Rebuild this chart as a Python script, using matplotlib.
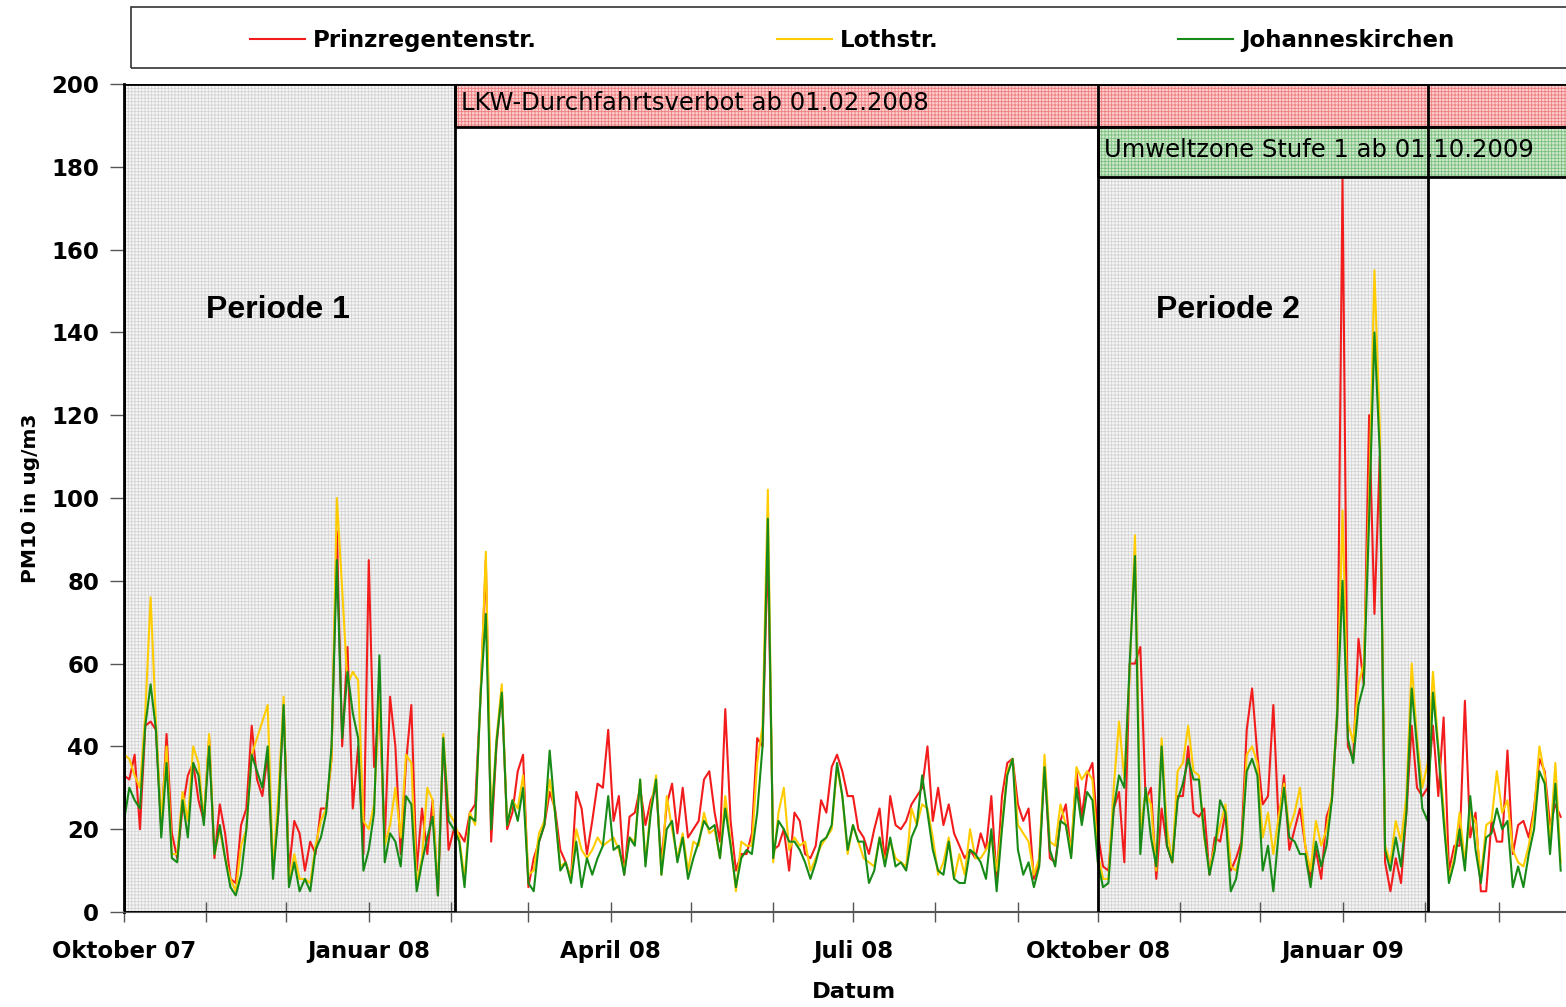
import matplotlib
matplotlib.use('Agg')
import matplotlib.pyplot as plt
import matplotlib.dates as mdates
import pandas as pd
from matplotlib.patches import Rectangle
from matplotlib.ticker import FuncFormatter, MultipleLocator

# daily PM10 means, read every second day from 01.10.2007
START = '2007-10-01'
prinz = [33, 32, 38, 20, 45, 46, 44, 20, 43, 19,
         13, 25, 33, 36, 27, 22, 42, 13, 26, 19,
         8, 7, 21, 25, 45, 32, 28, 38, 10, 24,
         50, 10, 22, 19, 10, 17, 14, 25, 25, 37,
         92, 40, 64, 25, 40, 14, 85, 35, 50, 17,
         52, 40, 14, 36, 50, 10, 25, 14, 27, 4,
         42, 15, 20, 19, 17, 24, 26, 52, 85, 17,
         40, 54, 20, 24, 34, 38, 6, 13, 17, 21,
         29, 25, 15, 12, 8, 29, 25, 14, 22, 31,
         30, 44, 22, 28, 9, 23, 24, 30, 21, 27,
         30, 12, 26, 31, 19, 30, 18, 20, 22, 32,
         34, 24, 17, 49, 22, 10, 14, 14, 19, 42,
         40, 88, 15, 16, 20, 10, 24, 22, 14, 13,
         16, 27, 24, 35, 38, 34, 28, 28, 20, 18,
         14, 20, 25, 12, 28, 21, 20, 22, 26, 28,
         30, 40, 22, 30, 21, 26, 19, 16, 13, 15,
         13, 19, 15, 28, 8, 28, 36, 37, 26, 22,
         25, 8, 12, 36, 13, 12, 22, 26, 14, 34,
         23, 33, 36, 19, 11, 10, 25, 29, 12, 60,
         60, 64, 27, 30, 8, 25, 16, 12, 28, 28,
         40, 24, 23, 25, 9, 18, 17, 24, 10, 13,
         17, 44, 54, 38, 26, 28, 50, 21, 33, 15,
         20, 25, 16, 8, 15, 8, 23, 27, 47, 177,
         40, 37, 66, 55, 120, 72, 110, 12, 5, 13,
         7, 24, 45, 30, 28, 30, 45, 28, 47, 10,
         16, 16, 51, 18, 24, 5, 5, 22, 17, 17,
         39, 14, 21, 22, 18, 25, 37, 34, 21, 26,
         23]
loth = [38, 37, 33, 30, 48, 76, 46, 22, 40, 14,
        14, 29, 22, 40, 36, 22, 43, 14, 20, 13,
        8, 5, 16, 20, 38, 42, 46, 50, 10, 28,
        52, 7, 14, 8, 8, 7, 16, 22, 25, 37,
        100, 78, 55, 58, 56, 22, 20, 26, 52, 16,
        21, 30, 18, 38, 36, 7, 13, 30, 27, 5,
        43, 24, 22, 18, 8, 24, 21, 52, 87, 22,
        42, 55, 21, 27, 25, 33, 9, 10, 19, 22,
        32, 24, 11, 12, 8, 20, 15, 13, 15, 18,
        16, 17, 18, 15, 10, 18, 17, 32, 12, 25,
        33, 9, 28, 20, 13, 19, 10, 17, 16, 24,
        19, 20, 13, 28, 17, 5, 17, 16, 16, 36,
        45, 102, 12, 24, 30, 15, 18, 16, 17, 10,
        13, 16, 18, 20, 35, 28, 14, 21, 17, 13,
        12, 11, 18, 12, 17, 13, 12, 11, 25, 21,
        26, 25, 18, 9, 12, 18, 8, 14, 9, 20,
        13, 13, 15, 18, 10, 21, 34, 37, 21, 19,
        17, 9, 13, 38, 17, 16, 26, 21, 15, 35,
        32, 34, 32, 14, 8, 8, 30, 46, 32, 58,
        91, 20, 29, 26, 10, 42, 20, 12, 34, 36,
        45, 34, 33, 18, 10, 16, 21, 26, 11, 10,
        15, 38, 40, 36, 18, 24, 14, 23, 31, 20,
        24, 30, 16, 10, 22, 16, 20, 28, 49, 97,
        46, 41, 55, 60, 100, 155, 117, 16, 12, 22,
        17, 28, 60, 42, 30, 36, 58, 40, 25, 8,
        13, 24, 12, 24, 22, 8, 21, 22, 34, 24,
        27, 15, 12, 11, 16, 24, 40, 33, 17, 36,
        12]
johannes = [22, 30, 27, 25, 45, 55, 44, 18, 36, 13,
            12, 27, 18, 36, 33, 21, 40, 14, 21, 13,
            6, 4, 9, 20, 38, 34, 30, 40, 8, 24,
            50, 6, 12, 5, 8, 5, 15, 18, 24, 40,
            85, 42, 58, 48, 42, 10, 15, 24, 62, 12,
            19, 17, 11, 28, 26, 5, 12, 18, 23, 4,
            42, 22, 20, 17, 6, 23, 22, 52, 72, 20,
            41, 53, 21, 27, 22, 30, 7, 5, 17, 21,
            39, 24, 10, 12, 7, 17, 6, 13, 9, 13,
            16, 28, 15, 16, 9, 18, 16, 32, 11, 24,
            32, 9, 20, 22, 12, 18, 8, 13, 17, 22,
            20, 21, 13, 25, 16, 6, 13, 15, 14, 24,
            40, 95, 13, 22, 20, 17, 17, 15, 12, 8,
            12, 17, 18, 21, 36, 28, 15, 21, 17, 17,
            7, 10, 18, 11, 18, 11, 12, 10, 18, 21,
            33, 24, 15, 10, 9, 17, 8, 7, 7, 15,
            14, 12, 8, 20, 5, 20, 33, 37, 15, 9,
            12, 6, 11, 35, 15, 11, 22, 21, 13, 30,
            21, 29, 27, 12, 6, 7, 25, 33, 30, 60,
            86, 14, 30, 18, 11, 40, 16, 12, 27, 31,
            37, 32, 32, 19, 9, 15, 27, 24, 5, 8,
            16, 34, 37, 33, 10, 16, 5, 19, 30, 18,
            17, 14, 14, 6, 17, 11, 16, 27, 48, 80,
            42, 36, 50, 55, 95, 140, 111, 15, 10, 18,
            11, 24, 54, 40, 25, 22, 53, 39, 22, 7,
            12, 20, 10, 28, 15, 7, 18, 19, 25, 20,
            22, 6, 11, 6, 14, 20, 34, 31, 14, 31,
            10]

series_names = ['Prinzregentenstr.', 'Lothstr.', 'Johanneskirchen']
series_colors = ['#f21c1c', '#ffcc00', '#178a17']

month_names = {1: 'Januar', 4: 'April', 7: 'Juli', 10: 'Oktober'}

period_labels = ['Periode 1', 'Periode 2']
period_starts = ['2007-10-01', '2008-10-01']
period_ends = ['2008-02-02 12:00', '2009-02-02']
period_label_days = [58, 49]

measure_labels = ['LKW-Durchfahrtsverbot ab 01.02.2008', 'Umweltzone Stufe 1 ab 01.10.2009']
measure_starts = ['2008-02-02 12:00', '2008-10-01']
measure_bands = [(189.5, 200), (177.5, 189.5)]
measure_fill = ['#fbd0d0', '#cfe9cf']
measure_hatch = ['#ee7d7d', '#7cbf7c']

plt.rcParams['hatch.linewidth'] = 0.6

fig = plt.figure(figsize=(15.66, 10.07), dpi=100)
ax = fig.add_axes([124 / 1566, 1 - 912 / 1007, 1 - 124 / 1566, (912 - 84) / 1007])

x_left = pd.Timestamp(START)
x_right = x_left + pd.Timedelta(days=542)
num = mdates.date2num

# Periode boxes: grey fine grid
for lab, s, e, off in zip(period_labels, period_starts, period_ends, period_label_days):
    x0, x1 = num(pd.Timestamp(s)), num(pd.Timestamp(e))
    ax.add_patch(Rectangle((x0, 0), x1 - x0, 200, facecolor='#f6f6f6',
                           edgecolor='#d4d4d4', lw=0, hatch='+++++', zorder=0))
    ax.text(x0 + off, 145.5, lab, ha='center', va='center',
            fontsize=23, fontweight='bold', family='Liberation Sans', zorder=5)

# measure bands: red / green fine grid
for lab, s, (y0, y1), fc, hc in zip(measure_labels, measure_starts, measure_bands,
                                    measure_fill, measure_hatch):
    x0 = num(pd.Timestamp(s))
    ax.add_patch(Rectangle((x0, y0), 700, y1 - y0, facecolor=fc, edgecolor=hc,
                           lw=0, hatch='+++++', zorder=1))
    ax.add_patch(Rectangle((x0, y0), 700, y1 - y0, fill=False, edgecolor='black',
                           lw=2, zorder=6))
    ax.text(x0 + 2.3, (y0 + y1) / 2 + 0.6, lab, ha='left', va='center',
            fontsize=17.5, zorder=7)

dates = pd.date_range(START, periods=len(prinz), freq='2D')
lines = []
for vals, name, color in zip([prinz, loth, johannes], series_names, series_colors):
    ln, = ax.plot(dates, vals, color=color, lw=1.5, label=name, zorder=3)
    lines.append(ln)

# black frames of the periods on top of the lines
for s, e in zip(period_starts, period_ends):
    x0, x1 = num(pd.Timestamp(s)), num(pd.Timestamp(e))
    ax.add_patch(Rectangle((x0, 0), x1 - x0, 200, fill=False, edgecolor='black',
                           lw=2, zorder=6))

ax.set_xlim(x_left, x_right)
ax.set_ylim(0, 200)
ax.yaxis.set_major_locator(MultipleLocator(20))
ax.xaxis.set_major_locator(mdates.MonthLocator(bymonth=[1, 4, 7, 10]))
ax.xaxis.set_minor_locator(mdates.MonthLocator())
ax.xaxis.set_major_formatter(FuncFormatter(
    lambda x, pos: f"{month_names.get(mdates.num2date(x).month, '')} {mdates.num2date(x).year % 100:02d}"))

for side in ['top', 'right']:
    ax.spines[side].set_visible(False)
ax.spines['left'].set_color('black')
ax.spines['left'].set_linewidth(2)
ax.spines['bottom'].set_color('#555555')
ax.spines['bottom'].set_linewidth(1.5)

ax.tick_params(axis='x', which='both', direction='inout', length=15, width=1,
               color='#555555', pad=13)
ax.tick_params(axis='y', direction='out', length=10, width=1, color='#555555', pad=8)
for lab in ax.get_xticklabels() + ax.get_yticklabels():
    lab.set_fontsize(16.5)
    lab.set_fontweight('bold')

ax.set_ylabel('PM10 in ug/m3', fontsize=14.5, fontweight='bold')
ax.yaxis.set_label_coords(-0.058, 0.5)
ax.set_xlabel('Datum', fontsize=16.2, fontweight='bold')
ax.xaxis.set_label_coords(0.506, -0.085)

# legend box across the top
fig.add_artist(Rectangle((131 / 1566, 1 - 68 / 1007), 1.0, 61 / 1007,
                         transform=fig.transFigure, fill=False, ec='#333333', lw=1.2))
fig.legend(lines, series_names, loc='center left',
           bbox_to_anchor=(250 / 1566, 1 - 40.5 / 1007), ncol=3, frameon=False,
           borderpad=0, borderaxespad=0, handlelength=2.4, handletextpad=0.35,
           columnspacing=10.45, prop=dict(weight='bold', size=16.5))

fig.savefig('out.png', dpi=100)
